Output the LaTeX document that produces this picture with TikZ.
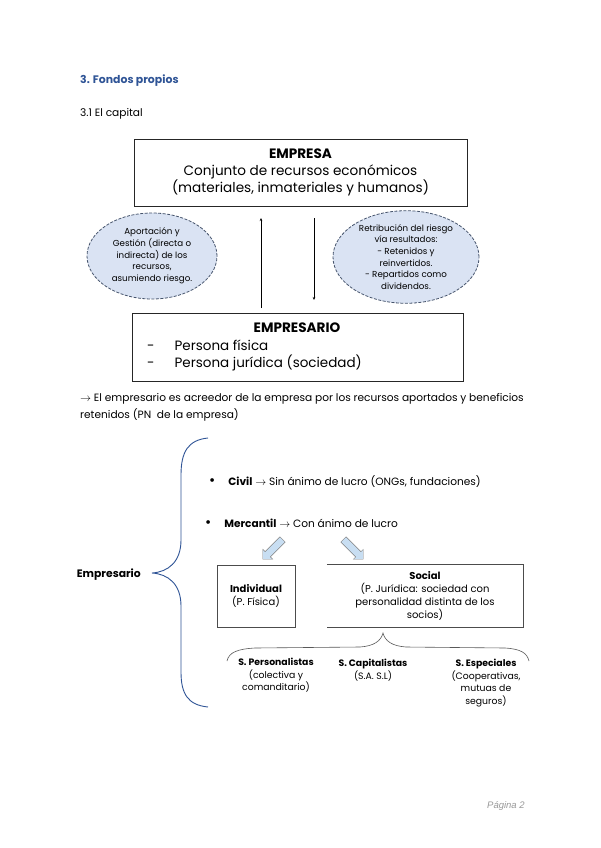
\documentclass[tikz,border=0pt]{standalone}
\usepackage{fontspec}
\setmainfont{Poppins}
\newfontfamily\piefont{Liberation Sans}
\usetikzlibrary{positioning,shapes.geometric,shapes.arrows,arrows.meta}
\definecolor{tituloazul}{RGB}{47,84,150}
\definecolor{elipsefondo}{RGB}{218,227,243}
\definecolor{elipseborde}{RGB}{70,84,108}
\definecolor{flechafondo}{RGB}{200,222,242}
\tikzset{
	caja/.style={draw=black!85, line width=0.9pt, inner sep=0pt, align=center},
	elipse/.style={ellipse, draw=elipseborde, dash pattern=on 3pt off 1.5pt, line width=0.8pt, fill=elipsefondo, inner sep=0pt, align=center, font=\fontsize{8.7}{11.7}\selectfont},
	bloque/.style={single arrow, draw=gray, fill=flechafondo, minimum height=28pt, minimum width=14pt, single arrow head extend=3pt, inner sep=3.2pt},
	linea/.style={inner sep=0pt, anchor=base west, font=\fontsize{10.6}{12}\selectfont},
	peque/.style={inner sep=0pt, align=center, font=\fontsize{9.3}{12.6}\selectfont},
}
\begin{document}
\begin{tikzpicture}[x=1pt, y=-1pt]
	\useasboundingbox[fill=white] (0,0) rectangle (600,848);
	
	% Titles
	\node[linea, text=tituloazul, font=\fontsize{10.9}{12}\selectfont\bfseries] (titulo) at (80,84) {3. Fondos propios};
	\node[linea] (subtitulo) at (80,117) {3.1 El capital};
	
	% Empresa / empresario boxes
	\node[caja, minimum width=333pt, minimum height=67pt, font=\fontsize{13.6}{17}\selectfont] (empresa) at (300.5,172.5)
		{\textbf{EMPRESA}\\Conjunto de recursos económicos\\(materiales, inmateriales y humanos)};
	\node[caja, minimum width=331pt, minimum height=68pt] (empresario) at (297.5,347) {};
	\node[inner sep=0pt, font=\fontsize{13.6}{17}\selectfont\bfseries] (titEmpresario) at (297,328) {EMPRESARIO};
	\node[linea, font=\fontsize{13.5}{17}\selectfont] (fisica) at (147,350) {-\hspace{20pt}Persona física};
	\node[linea, font=\fontsize{13.5}{17}\selectfont] (juridica) at (147,367) {-\hspace{20pt}Persona jurídica (sociedad)};
	
	% Ellipses
	\node[elipse, minimum width=130pt, minimum height=86pt] (aportacion) at (152,256)
		{Aportación y\\Gestión (directa o\\indirecta) de los\\recursos,\\asumiendo riesgo.};
	\node[elipse, minimum width=146pt, minimum height=89pt] (retribucion) at (406,257)
		{Retribución del riesgo\\vía resultados:\\- Retenidos y\\reinvertidos.\\- Repartidos como\\dividendos.};
	
	% Arrows between boxes
	\coordinate (subeA) at (261,308);
	\coordinate (subeB) at (261,218);
	\coordinate (bajaA) at (314,218);
	\coordinate (bajaB) at (314,300);
	\draw[-{Stealth[length=3pt,width=2.5pt]}, thin] (subeA) -- (subeB);
	\draw[-{Stealth[length=3pt,width=2.5pt]}, thin] (bajaA) -- (bajaB);
	
	% Paragraph
	\node[linea] (parrafo1) at (80,401) {$\rightarrow$ El empresario es acreedor de la empresa por los recursos aportados y beneficios};
	\node[linea] (parrafo2) at (80,418) {retenidos (PN\ \ de la empresa)};
	
	% Big brace
	\draw[tituloazul, line width=0.9pt] (208,438) .. controls (188,440) and (181,452) .. (181,475)
		-- (181,540) .. controls (181,562) and (168,572) .. (152,573)
		.. controls (168,574) and (181,584) .. (181,606)
		-- (181,672) .. controls (181,694) and (188,705) .. (208,707);
	\node[linea, font=\fontsize{10.8}{12}\selectfont\bfseries, anchor=base east] (empresarioTxt) at (141,577) {Empresario};
	
	% Bullets
	\node[linea] (civil) at (209,485) {{\fontsize{15}{12}\selectfont•}\hspace{13pt}\textbf{Civil} $\rightarrow$ Sin ánimo de lucro (ONGs, fundaciones)};
	\node[linea] (mercantil) at (205,527) {{\fontsize{15}{12}\selectfont•}\hspace{13pt}\textbf{Mercantil} $\rightarrow$ Con ánimo de lucro};
	
	% Block arrows
	\node[bloque, rotate=-135] (flechaInd) at (274,548) {};
	\node[bloque, rotate=-45] (flechaSoc) at (352,548) {};
	
	% Individual / social
	\node[caja, draw=black!70, line width=0.7pt, minimum width=78pt, minimum height=62pt, font=\fontsize{10}{13}\selectfont] (individual) at (256,596)
		{\textbf{Individual}\\(P. Física)};
	\node[inner sep=0pt, minimum width=196pt, minimum height=62pt, align=center, font=\fontsize{10}{13}\selectfont] (social) at (425,596)
		{\textbf{Social}\\(P. Jurídica: sociedad con\\personalidad distinta de los\\socios)};
	\draw[black!70, line width=0.7pt] (social.north west) -- (social.north east) -- (social.south east) -- (social.south west);
	
	% Lower brace
	\draw[black!65, line width=0.6pt] (227,661) .. controls (229,652) and (238,649) .. (255,648)
		-- (360,647) .. controls (374,646) and (381,641) .. (383,633)
		.. controls (385,641) and (392,646) .. (406,647)
		-- (505,648) .. controls (521,649) and (527,653) .. (529,661);
	
	% Kinds of companies
	\node[peque, anchor=north] (personalistas) at (276,658) {\textbf{S. Personalistas}\\(colectiva y\\comanditario)};
	\node[peque, anchor=north] (capitalistas) at (373,659) {\textbf{S. Capitalistas}\\(S.A. S.L)};
	\node[peque, anchor=north] (especiales) at (486,659) {\textbf{S. Especiales}\\(Cooperativas,\\mutuas de\\seguros)};
	
	% Footer
	\node[linea, font=\piefont\itshape\fontsize{9.5}{11}\selectfont, text=black!40] (pagina) at (487,808) {Página 2};
\end{tikzpicture}
\end{document}
